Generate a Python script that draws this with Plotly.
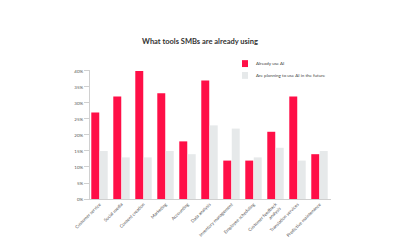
import plotly.graph_objects as go

categories = ["Customer service", "Social media", "Content creation", "Marketing",
              "Accounting", "Data analysis", "Inventory management",
              "Employee scheduling", "Customer feedback<br>analysis",
              "Translation services", "Predictive maintenance"]
already = [27, 32, 40, 33, 18, 37, 12, 12, 21, 32, 14]
planning = [15, 13, 13, 15, 14, 23, 22, 13, 16, 12, 15]
series_names = ["Already use AI", "Are planning to use AI in the future"]
series_colors = ["#ff0f47", "#e6e9ea"]
y_ticks = [0, 5, 10, 15, 20, 25, 30, 35, 40]
y_labels = [f"{v}%" for v in y_ticks]

L, R, T, B = 90, 69, 70, 49
W, H = 400, 250
pw, ph = W - L - R, H - T - B

def px_to_paper(x, y):
    return (x - L) / pw, (H - B - y) / ph

fig = go.Figure()
fig.add_bar(x=categories, y=already, name=series_names[0], marker_color=series_colors[0],
            marker_line_width=0)
fig.add_bar(x=categories, y=planning, name=series_names[1], marker_color=series_colors[1],
            marker_line_width=0)

# manual legend (small squares like the reference)
for i, (nm, col) in enumerate(zip(series_names, series_colors)):
    top = 60 + i * 12
    x0, y0 = px_to_paper(242, top)
    x1, y1 = px_to_paper(248, top + 7)
    fig.add_shape(type="rect", xref="paper", yref="paper", x0=x0, x1=x1, y0=y1, y1=y0,
                  fillcolor=col, line_width=0)
    tx, ty = px_to_paper(254, top + 3.5)
    fig.add_annotation(xref="paper", yref="paper", x=tx, y=ty, text=nm, showarrow=False,
                       xanchor="left", yanchor="middle",
                       font=dict(size=4.5, color="#444", family="Lato, sans-serif"))

fig.update_layout(
    width=W, height=H,
    paper_bgcolor="white", plot_bgcolor="white",
    margin=dict(l=L, r=R, t=T, b=B),
    barmode="group", bargap=0.23, bargroupgap=0.06,
    font=dict(family="Lato, sans-serif", color="#555"),
    title=dict(text="<b>What tools SMBs are already using</b>", x=0.5, xref="paper",
               xanchor="center", y=1 - 41 / 250, yanchor="middle",
               font=dict(size=7.5, color="#333", family="Lato, sans-serif")),
    showlegend=False,
)
fig.update_layout(title_x=(200 - L) / pw)
fig.update_yaxes(range=[0, 40.3], tickvals=y_ticks, ticktext=y_labels,
                 showgrid=False, showline=True, linecolor="#d0d0d0", linewidth=1,
                 ticks="outside", ticklen=5, tickcolor="#d0d0d0",
                 tickfont=dict(size=4.5, color="#555"), zeroline=False)
fig.update_xaxes(range=[-0.432, 10.523], showgrid=False, showline=True,
                 linecolor="#d0d0d0", linewidth=1,
                 tickangle=-45, tickfont=dict(size=4.5, color="#555"))

fig.write_html("out.html")
